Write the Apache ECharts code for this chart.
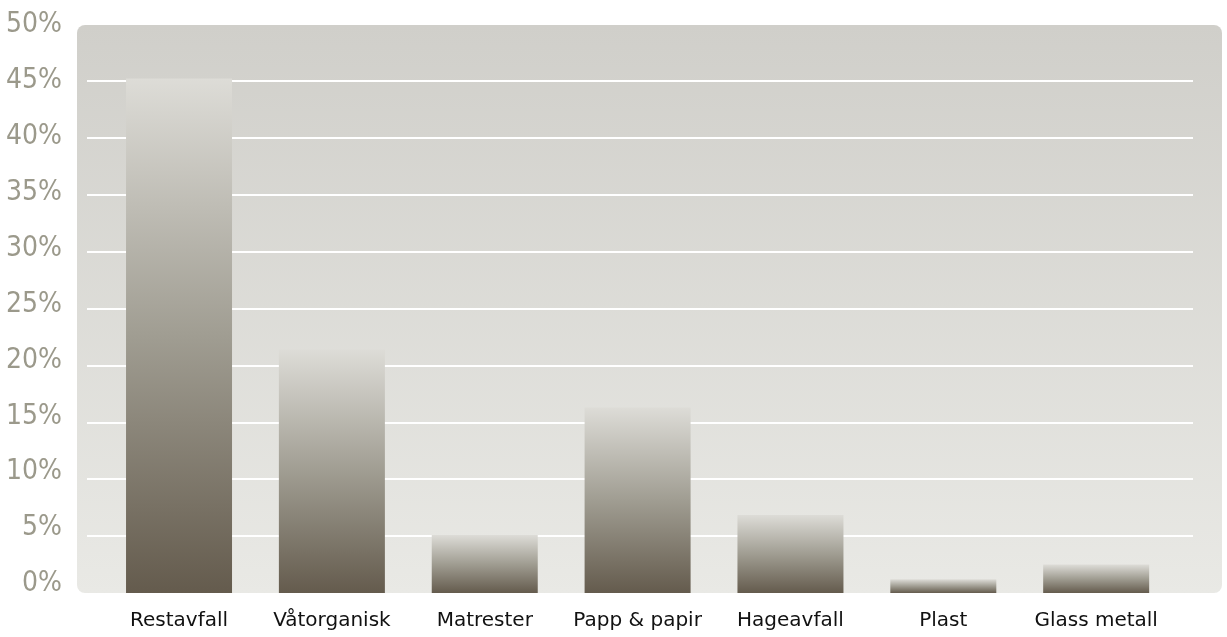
<!DOCTYPE html>
<html><head><meta charset="utf-8">
<script src="https://cdn.jsdelivr.net/npm/echarts@6/dist/echarts.min.js"></script>
<style>html,body{margin:0;padding:0;background:#fff}#c{width:1227px;height:637px}</style>
</head><body><div id="c"></div>
<script>
const categories = ['Restavfall','Våtorganisk','Matrester','Papp & papir','Hageavfall','Plast','Glass metall'];
const values = [45.2, 21.4, 5.1, 16.3, 6.85, 1.2, 2.5];
const yMin = 0, yMax = 50, yStep = 5;

const chart = echarts.init(document.getElementById('c'));
const barGrad = new echarts.graphic.LinearGradient(0,0,0,1,[
  {offset:0,color:'#dddcd7'},{offset:0.5,color:'#a09d92'},{offset:1,color:'#645b4d'}]);
chart.setOption({
  animation:false,
  graphic:[{type:'rect',left:77,top:25,z:-10,silent:true,
    shape:{width:1145,height:568,r:8},
    style:{fill:new echarts.graphic.LinearGradient(0,0,0,1,[{offset:0,color:'#d0cfca'},{offset:1,color:'#e9e9e5'}])}}],
  grid:[
    {left:87,right:34,top:24,bottom:44},
    {left:102.6,right:54.4,top:24,bottom:44},
    {left:87,right:34,top:25,bottom:53}
  ],
  xAxis:[
    {gridIndex:0,type:'value',show:false,min:0,max:1},
    {gridIndex:1,type:'category',data:categories,
     axisLine:{show:false},axisTick:{show:false},
     axisLabel:{interval:0,color:'#111',fontSize:20,fontFamily:'DejaVu Sans',margin:18}},
    {gridIndex:2,type:'value',show:false,min:0,max:1}
  ],
  yAxis:[
    {gridIndex:0,type:'value',min:yMin,max:yMax,interval:yStep,
     axisLine:{show:false},axisTick:{show:false},axisLabel:{show:false},
     splitLine:{show:true,showMinLine:false,showMaxLine:false,lineStyle:{color:'#ffffff',width:2}}},
    {gridIndex:1,type:'value',min:yMin,max:yMax,interval:yStep,show:false,splitLine:{show:false}},
    {gridIndex:2,type:'value',min:yMin,max:yMax,interval:yStep,
     axisLine:{show:false},axisTick:{show:false},splitLine:{show:false},
     axisLabel:{formatter:'{value}%',color:'#9b998b',fontSize:28,fontFamily:'DejaVu Sans Condensed',margin:25,verticalAlign:'middle'}}
  ],
  series:[{type:'bar',xAxisIndex:1,yAxisIndex:1,data:values,barWidth:106,
    itemStyle:{color:barGrad}}]
});
</script></body></html>
